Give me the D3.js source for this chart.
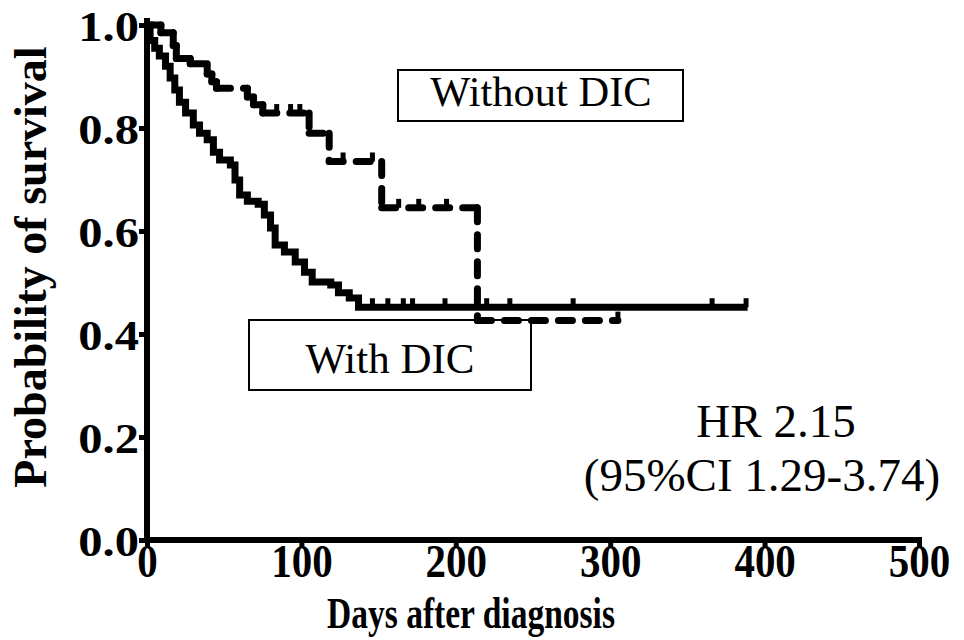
<!DOCTYPE html>
<html>
<head>
<meta charset="utf-8">
<script src="https://cdn.jsdelivr.net/npm/d3@7"></script>
<style>
  body { margin: 0; background: #fff; }
  svg { font-family: "Liberation Serif", "Times New Roman", serif; }
</style>
</head>
<body>
<div id="chart"></div>
<script>
// Kaplan-Meier steps
const withDays = [0, 2, 5, 8, 12, 15, 18, 21, 25, 30, 34, 39, 43, 47, 54, 57, 60, 65, 72, 76, 80, 83, 89, 96, 102, 107, 119, 124, 131, 137, 389];
const withSurv = [1.0, 0.97, 0.955, 0.94, 0.92, 0.897, 0.874, 0.85, 0.829, 0.806, 0.79, 0.777, 0.753, 0.738, 0.728, 0.699, 0.67, 0.658, 0.652, 0.631, 0.606, 0.573, 0.559, 0.54, 0.52, 0.501, 0.495, 0.48, 0.47, 0.452, 0.452];
const withCensor = [146, 156, 166, 172, 193, 214, 220, 235, 276, 366, 388];

const withoutDays = [0, 9, 17, 19, 28, 39, 42, 45, 65, 69, 75, 105, 118, 152, 214, 305];
const withoutSurv = [1.0, 0.985, 0.96, 0.935, 0.925, 0.905, 0.89, 0.877, 0.86, 0.845, 0.829, 0.79, 0.735, 0.645, 0.426, 0.426];
const withoutCensor = [84, 93, 99, 127, 146, 163, 176, 194, 305];

const xTicks = [0, 100, 200, 300, 400, 500];
const yTicks = [0, 0.2, 0.4, 0.6, 0.8, 1.0];

const width = 964, height = 640;

const x = d3.scaleLinear().domain([0, 500]).range([147, 919]);
const y = d3.scaleLinear().domain([0, 1]).range([540, 25]);

const svg = d3.select("#chart").append("svg")
  .attr("width", width)
  .attr("height", height);

// stepped survival value at a given day
function survAt(days, surv, t) {
  let s = surv[0];
  for (let i = 0; i < days.length; i++) if (days[i] <= t) s = surv[i];
  return s;
}

// With DIC: solid step line
const withPts = withDays.map((d, i) => [d, withSurv[i]]);
svg.append("path")
  .datum(withPts)
  .attr("fill", "none")
  .attr("stroke", "#000")
  .attr("stroke-width", 7)
  .attr("stroke-linejoin", "miter")
  .attr("d", d3.line().x(d => x(d[0])).y(d => y(d[1])).curve(d3.curveStepAfter));

// Without DIC: each step segment dashed on its own
const segs = [];
for (let i = 0; i < withoutDays.length - 1; i++) {
  segs.push([withoutDays[i], withoutSurv[i], withoutDays[i + 1], withoutSurv[i]]);
  if (withoutSurv[i + 1] !== withoutSurv[i])
    segs.push([withoutDays[i + 1], withoutSurv[i], withoutDays[i + 1], withoutSurv[i + 1]]);
}
svg.append("g")
  .selectAll("line")
  .data(segs)
  .join("line")
    .attr("x1", d => x(d[0]))
    .attr("y1", d => y(d[1]))
    .attr("x2", d => x(d[2]))
    .attr("y2", d => y(d[3]))
    .attr("stroke", "#000")
    .attr("stroke-width", 7)
    .attr("stroke-linecap", "round")
    .attr("stroke-dasharray", "14 13");

// censor ticks
function censor(days, surv, list) {
  svg.append("g")
    .selectAll("line")
    .data(list)
    .join("line")
      .attr("x1", d => x(d))
      .attr("x2", d => x(d))
      .attr("y1", d => y(survAt(days, surv, d)))
      .attr("y2", d => y(survAt(days, surv, d)) - 9)
      .attr("stroke", "#000")
      .attr("stroke-width", 5);
}
censor(withDays, withSurv, withCensor);
censor(withoutDays, withoutSurv, withoutCensor);

// axes
const xAxis = svg.append("g")
  .attr("transform", `translate(0,${y(0)})`)
  .call(d3.axisBottom(x).tickValues(xTicks).tickSize(8).tickSizeOuter(0));

const yAxis = svg.append("g")
  .attr("transform", `translate(${x(0)},0)`)
  .call(d3.axisLeft(y).tickValues(yTicks).tickFormat(d3.format(".1f")).tickSize(8).tickSizeOuter(0).tickPadding(0));

[xAxis, yAxis].forEach(g => {
  g.select(".domain").attr("stroke-width", 6);
  g.selectAll(".tick line").attr("stroke-width", 5);
});
yAxis.select(".domain").attr("d", `M0,${y(0) + 3}V18`);
xAxis.select(".domain").attr("d", `M${x(0) - 3},0H${x(500) + 3}`);

// x labels look condensed, y labels a little wide
xAxis.selectAll(".tick text")
  .attr("font-family", "Liberation Serif")
  .attr("font-weight", "bold")
  .attr("font-size", 46)
  .attr("fill", "#000")
  .attr("y", 37)
  .attr("dy", 0)
  .attr("transform", "scale(0.89,1)");
yAxis.selectAll(".tick text")
  .attr("font-family", "Liberation Serif")
  .attr("font-weight", "bold")
  .attr("font-size", 43)
  .attr("fill", "#000")
  .attr("dy", "0.36em")
  .attr("transform", "scale(1.13,1)")
  .attr("x", -8 / 1.13);

// axis titles
svg.append("text")
  .attr("transform", `translate(46,267) rotate(-90)`)
  .attr("text-anchor", "middle")
  .attr("font-weight", "bold")
  .attr("font-size", 46)
  .text("Probability of survival");

svg.append("text")
  .attr("transform", "translate(471,628) scale(0.745,1)")
  .attr("text-anchor", "middle")
  .attr("font-weight", "bold")
  .attr("font-size", 45)
  .text("Days after diagnosis");

// label boxes
svg.append("rect")
  .attr("x", 398).attr("y", 70).attr("width", 285).attr("height", 51)
  .attr("fill", "#fff").attr("stroke", "#000").attr("stroke-width", 2);
svg.append("text")
  .attr("x", 541).attr("y", 106)
  .attr("text-anchor", "middle")
  .attr("font-size", 42.5)
  .text("Without DIC");

svg.append("rect")
  .attr("x", 249).attr("y", 320).attr("width", 282).attr("height", 70)
  .attr("fill", "none").attr("stroke", "#000").attr("stroke-width", 2);
svg.append("text")
  .attr("x", 390).attr("y", 373)
  .attr("text-anchor", "middle")
  .attr("font-size", 43)
  .text("With DIC");

svg.append("text")
  .attr("x", 776).attr("y", 437)
  .attr("text-anchor", "middle")
  .attr("font-size", 47)
  .text("HR 2.15");
svg.append("text")
  .attr("x", 762).attr("y", 491)
  .attr("text-anchor", "middle")
  .attr("font-size", 47)
  .text("(95%CI 1.29-3.74)");
</script>
</body>
</html>
